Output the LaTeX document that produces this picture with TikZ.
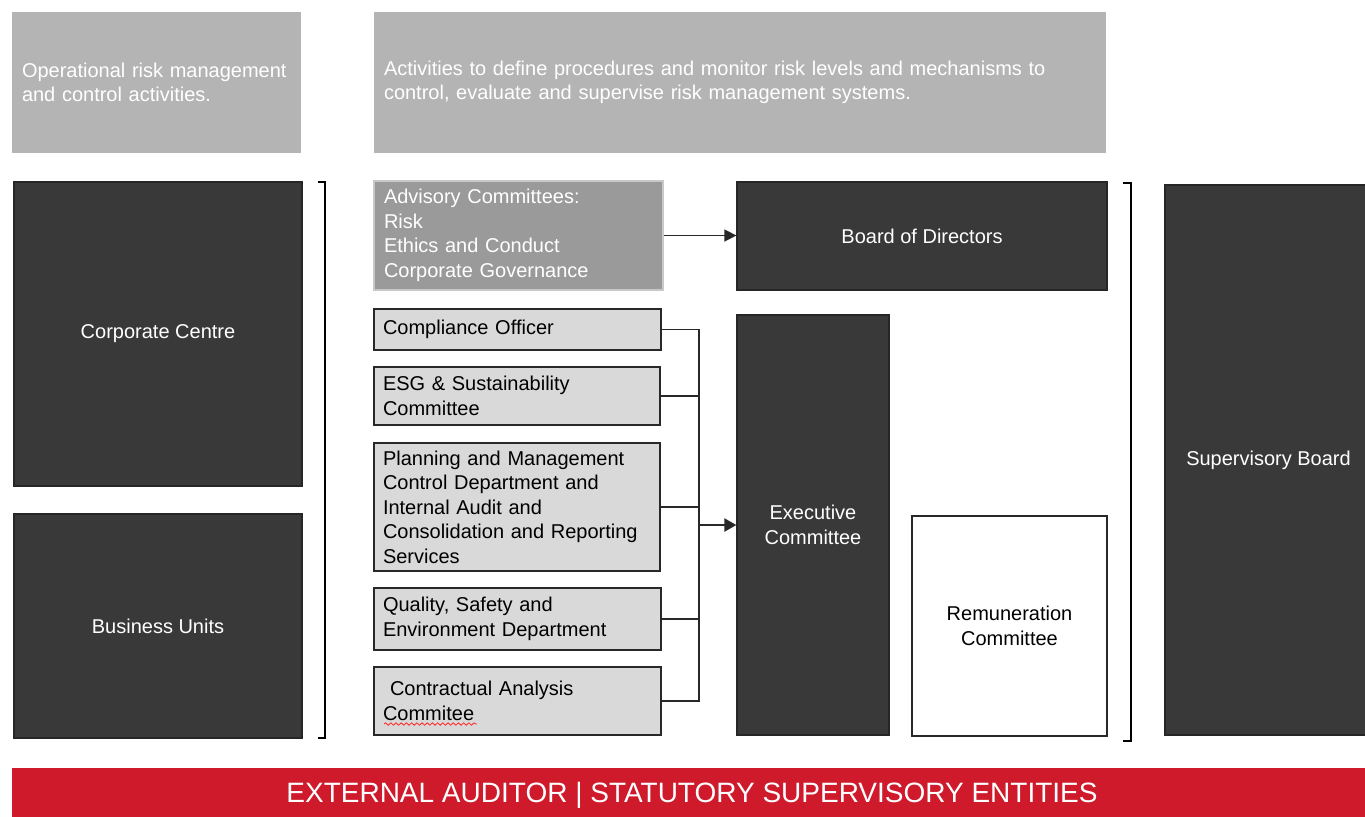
\documentclass[tikz,border=0pt]{standalone}
\usepackage{fontspec}
\setmainfont{Liberation Sans}
\usepackage{tikz}
\usetikzlibrary{arrows.meta, decorations.pathmorphing}
\definecolor{topgray}{RGB}{180, 180, 180}
\definecolor{boxdark}{RGB}{57, 57, 57}
\definecolor{advgray}{RGB}{154, 154, 154}
\definecolor{advedge}{RGB}{200, 200, 200}
\definecolor{boxlight}{RGB}{217, 217, 217}
\definecolor{bannerred}{RGB}{207, 26, 43}
\definecolor{linegray}{RGB}{40, 40, 40}

\begin{document}
\begin{tikzpicture}[x=0.5pt, y=-0.5pt, every node/.style={font=\fontsize{10pt}{12.25pt}\selectfont},
  topbox/.style={rectangle, fill=topgray, text=white, align=left, inner xsep=5pt},
  darkbox/.style={rectangle, fill=boxdark, draw=black!85, line width=0.6pt, text=white, align=center},
  advbox/.style={rectangle, fill=advgray, draw=advedge, line width=0.8pt, text=white, align=left, inner xsep=5pt},
  unitbox/.style={rectangle, fill=boxlight, draw=linegray, line width=0.7pt, text=black, align=left, inner xsep=4.5pt},
  link/.style={draw=linegray, line width=0.7pt},
  bracket/.style={draw=black, line width=0.6pt}]

\clip (0,0) rectangle (1365,816);

% Top descriptions
\node[topbox, minimum width=144.5pt, minimum height=70.5pt, text width=134.5pt] at (156.5,82.5) (opdesc)
  {Operational risk management\\and control activities.};
\node[topbox, minimum width=366pt, minimum height=70.5pt, text width=356pt] at (740,82.5) (ctrldesc)
  {Activities to define procedures and monitor risk levels and mechanisms to\\control, evaluate and supervise risk management systems.};

% Operational side
\node[darkbox, minimum width=144pt, minimum height=152pt] at (158,334) (corp) {Corporate Centre};
\node[darkbox, minimum width=144pt, minimum height=112pt] at (158,626) (units) {Business Units};
\draw[bracket] (318,182) -| (325,738) -- (318,738);

% Committees and departments
\node[advbox, minimum width=144.5pt, minimum height=54.5pt, text width=134.5pt] at (518.5,235.5) (adv)
  {Advisory Committees:\\Risk\\Ethics and Conduct\\Corporate Governance};
\node[unitbox, minimum width=143.5pt, minimum height=20.5pt, text width=134.5pt] at (517.5,329.5) (comp)
  {Compliance Officer};
\node[unitbox, minimum width=143pt, minimum height=29pt, text width=134pt] at (517,396) (esg)
  {ESG \& Sustainability\\Committee};
\node[unitbox, minimum width=143pt, minimum height=64pt, text width=134pt] at (517,507) (plan)
  {Planning and Management\\Control Department and\\Internal Audit and\\Consolidation and Reporting\\Services};
\node[unitbox, minimum width=143.5pt, minimum height=31pt, text width=134.5pt] at (517.5,619) (qual)
  {Quality, Safety and\\Environment Department};
\node[unitbox, minimum width=143.5pt, minimum height=34pt, text width=134.5pt] at (517.5,701) (contr)
  {\hspace*{3.5pt}Contractual Analysis\\Commitee};
\draw[red!85, line width=0.4pt, decorate, decoration={snake, amplitude=0.6pt, segment length=2.6pt}]
  (384,724) -- (477,724);

% Governing bodies
\node[darkbox, minimum width=185pt, minimum height=54pt] at (922,236) (board) {Board of Directors};
\node[darkbox, minimum width=76pt, minimum height=210pt] at (813,525) (exec) {Executive\\Committee};
\node[rectangle, fill=white, draw=linegray, line width=0.6pt, align=center, minimum width=97.5pt, minimum height=110pt]
  at (1009.5,626) (remun) {Remuneration\\Committee};
\draw[bracket] (1123,183) -| (1131,741) -- (1123,741);
\node[darkbox, minimum width=103.5pt, minimum height=275pt] at (1268.5,460) (superv) {Supervisory Board};

% Connections
\coordinate (hub) at (699,525);
\draw[link, -{Triangle[length=6pt, width=6pt]}] (adv.east) -- (board.west |- adv.east);
\draw[link] (comp.east) -| (hub);
\draw[link] (esg.east) -| (hub);
\draw[link] (plan.east) -| (hub);
\draw[link] (qual.east) -| (hub);
\draw[link] (contr.east) -| (hub);
\draw[link, line width=1.1pt, -{Triangle[length=6pt, width=6.5pt]}] (hub) -- (exec.west);

% External entities
\node[rectangle, fill=bannerred, text=white, minimum width=680pt, minimum height=27pt,
  font=\fontsize{14pt}{16pt}\selectfont] at (692,795) (audit) {EXTERNAL AUDITOR | STATUTORY SUPERVISORY ENTITIES};
\end{tikzpicture}
\end{document}
